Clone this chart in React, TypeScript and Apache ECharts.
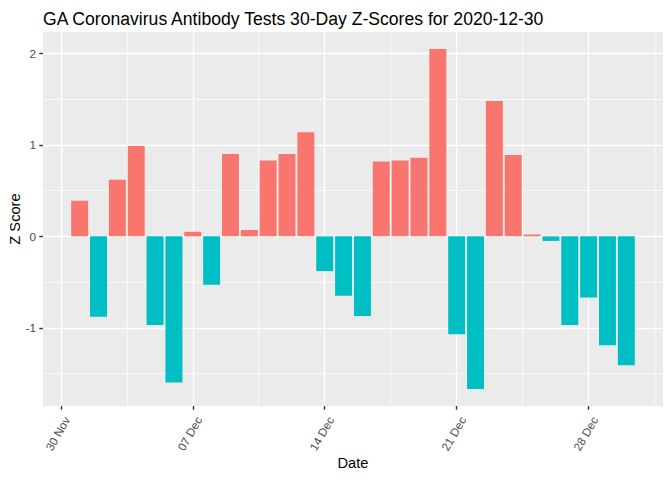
import React, { useEffect, useRef } from "react";
import * as echarts from "echarts";

const dates = [
  "2020-12-01", "2020-12-02", "2020-12-03", "2020-12-04", "2020-12-05",
  "2020-12-06", "2020-12-07", "2020-12-08", "2020-12-09", "2020-12-10",
  "2020-12-11", "2020-12-12", "2020-12-13", "2020-12-14", "2020-12-15",
  "2020-12-16", "2020-12-17", "2020-12-18", "2020-12-19", "2020-12-20",
  "2020-12-21", "2020-12-22", "2020-12-23", "2020-12-24", "2020-12-25",
  "2020-12-26", "2020-12-27", "2020-12-28", "2020-12-29", "2020-12-30",
];
const zScores = [
  0.39, -0.88, 0.62, 0.99, -0.97,
  -1.6, 0.05, -0.53, 0.9, 0.07,
  0.83, 0.9, 1.14, -0.38, -0.65,
  -0.87, 0.82, 0.83, 0.86, 2.05,
  -1.07, -1.67, 1.48, 0.89, 0.02,
  -0.05, -0.97, -0.67, -1.19, -1.41,
];
const xTickDates = ["2020-11-30", "2020-12-07", "2020-12-14", "2020-12-21", "2020-12-28"];
const xTickLabels = ["30 Nov", "07 Dec", "14 Dec", "21 Dec", "28 Dec"];
const yTickValues = [-1, 0, 1, 2];
const yMinorValues = [-1.5, -0.5, 0.5, 1.5];

const ORIGIN = Date.parse("2020-11-30T00:00:00Z");
const dayOf = (s: string) => (Date.parse(s + "T00:00:00Z") - ORIGIN) / 86400000;

const POS = "#F8766D";
const NEG = "#00BFC4";
const FONT = "'Liberation Sans', Arial, sans-serif";

const W = 672;
const H = 480;
const GRID = { left: 43, right: 9, top: 32, bottom: 74 };

export default function App() {
  const ref = useRef<HTMLDivElement>(null);
  useEffect(() => {
    if (!ref.current) return;
    const chart = echarts.init(ref.current, undefined, { renderer: "svg" });

    const xs = dates.map(dayOf);
    const barFrac = 0.9;
    const xLo = Math.min(...xs) - barFrac / 2;
    const xHi = Math.max(...xs) + barFrac / 2;
    const xPad = (xHi - xLo) * 0.05;
    const xMin = xLo - xPad;
    const xMax = xHi + xPad;
    const yLo = Math.min(0, ...zScores);
    const yHi = Math.max(0, ...zScores);
    const yPad = (yHi - yLo) * 0.05;

    const plotW = W - GRID.left - GRID.right;
    const barPx = (barFrac * plotW) / (xMax - xMin);

    const xMajor = xTickDates.map(dayOf);
    const xMinor = xMajor.map((v) => v + 3.5);

    const major = { color: "#FFFFFF", width: 1.4, type: "solid" as const };
    const minor = { color: "#FFFFFF", width: 0.7, type: "solid" as const };
    const gridLines: any[] = [
      ...xMinor.map((v) => ({ xAxis: v, lineStyle: minor })),
      ...yMinorValues.map((v) => ({ yAxis: v, lineStyle: minor })),
      ...xMajor.map((v) => ({ xAxis: v, lineStyle: major })),
      ...yTickValues.map((v) => ({ yAxis: v, lineStyle: major })),
    ];

    const option: any = {
      animation: false,
      textStyle: { fontFamily: FONT },
      title: {
        text: "GA Coronavirus Antibody Tests 30-Day Z-Scores for 2020-12-30",
        left: 38,
        top: 5,
        textStyle: { fontSize: 17.6, fontWeight: "normal", color: "#000000", fontFamily: FONT },
      },
      grid: {
        ...GRID,
        containLabel: false,
        outerBoundsMode: "none",
        show: true,
        backgroundColor: "#EBEBEB",
        borderWidth: 0,
      },
      xAxis: {
        type: "value",
        min: xMin,
        max: xMax,
        position: "bottom",
        name: "Date",
        nameLocation: "middle",
        nameGap: 49,
        nameMoveOverlap: false,
        nameTextStyle: { fontSize: 14.67, color: "#000000", fontFamily: FONT },
        axisLine: { show: false, onZero: false },
        splitLine: { show: false },
        axisTick: {
          show: true,
          length: 3.7,
          customValues: xMajor,
          lineStyle: { color: "#333333", width: 1.4 },
        },
        axisLabel: {
          customValues: xMajor,
          rotate: 60,
          align: "right",
          verticalAlign: "top",
          padding: [1, 0, 0, 0],
          margin: 8,
          fontSize: 11.7,
          color: "#4D4D4D",
          fontFamily: FONT,
          formatter: (v: number) => {
            const i = xMajor.findIndex((m) => Math.abs(m - v) < 1e-6);
            return i >= 0 ? xTickLabels[i] : "";
          },
        },
      },
      yAxis: {
        type: "value",
        min: yLo - yPad,
        max: yHi + yPad,
        position: "left",
        name: "Z Score",
        nameLocation: "middle",
        nameGap: 21,
        nameMoveOverlap: false,
        nameTextStyle: { fontSize: 14.67, color: "#000000", fontFamily: FONT },
        axisLine: { show: false, onZero: false },
        splitLine: { show: false },
        axisTick: {
          show: true,
          length: 3.7,
          customValues: yTickValues,
          lineStyle: { color: "#333333", width: 1.4 },
        },
        axisLabel: {
          customValues: yTickValues,
          margin: 7,
          fontSize: 11.7,
          color: "#4D4D4D",
          fontFamily: FONT,
          formatter: (v: number) => String(v),
        },
      },
      series: [
        {
          type: "line",
          data: [],
          z: 1,
          silent: true,
          markLine: {
            z: 1,
            silent: true,
            symbol: ["none", "none"],
            label: { show: false },
            emphasis: { disabled: true },
            animation: false,
            data: gridLines,
          },
        },
        {
          type: "bar",
          z: 3,
          barWidth: barPx,
          data: xs.map((x, i) => [x, zScores[i]]),
          itemStyle: {
            color: (p: any) => (p.value[1] >= 0 ? POS : NEG),
          },
        },
      ],
    };
    chart.setOption(option);
    return () => chart.dispose();
  }, []);
  return (
    <div
      ref={ref}
      style={{ position: "absolute", left: 0, top: 0, width: W, height: H }}
    />
  );
}
